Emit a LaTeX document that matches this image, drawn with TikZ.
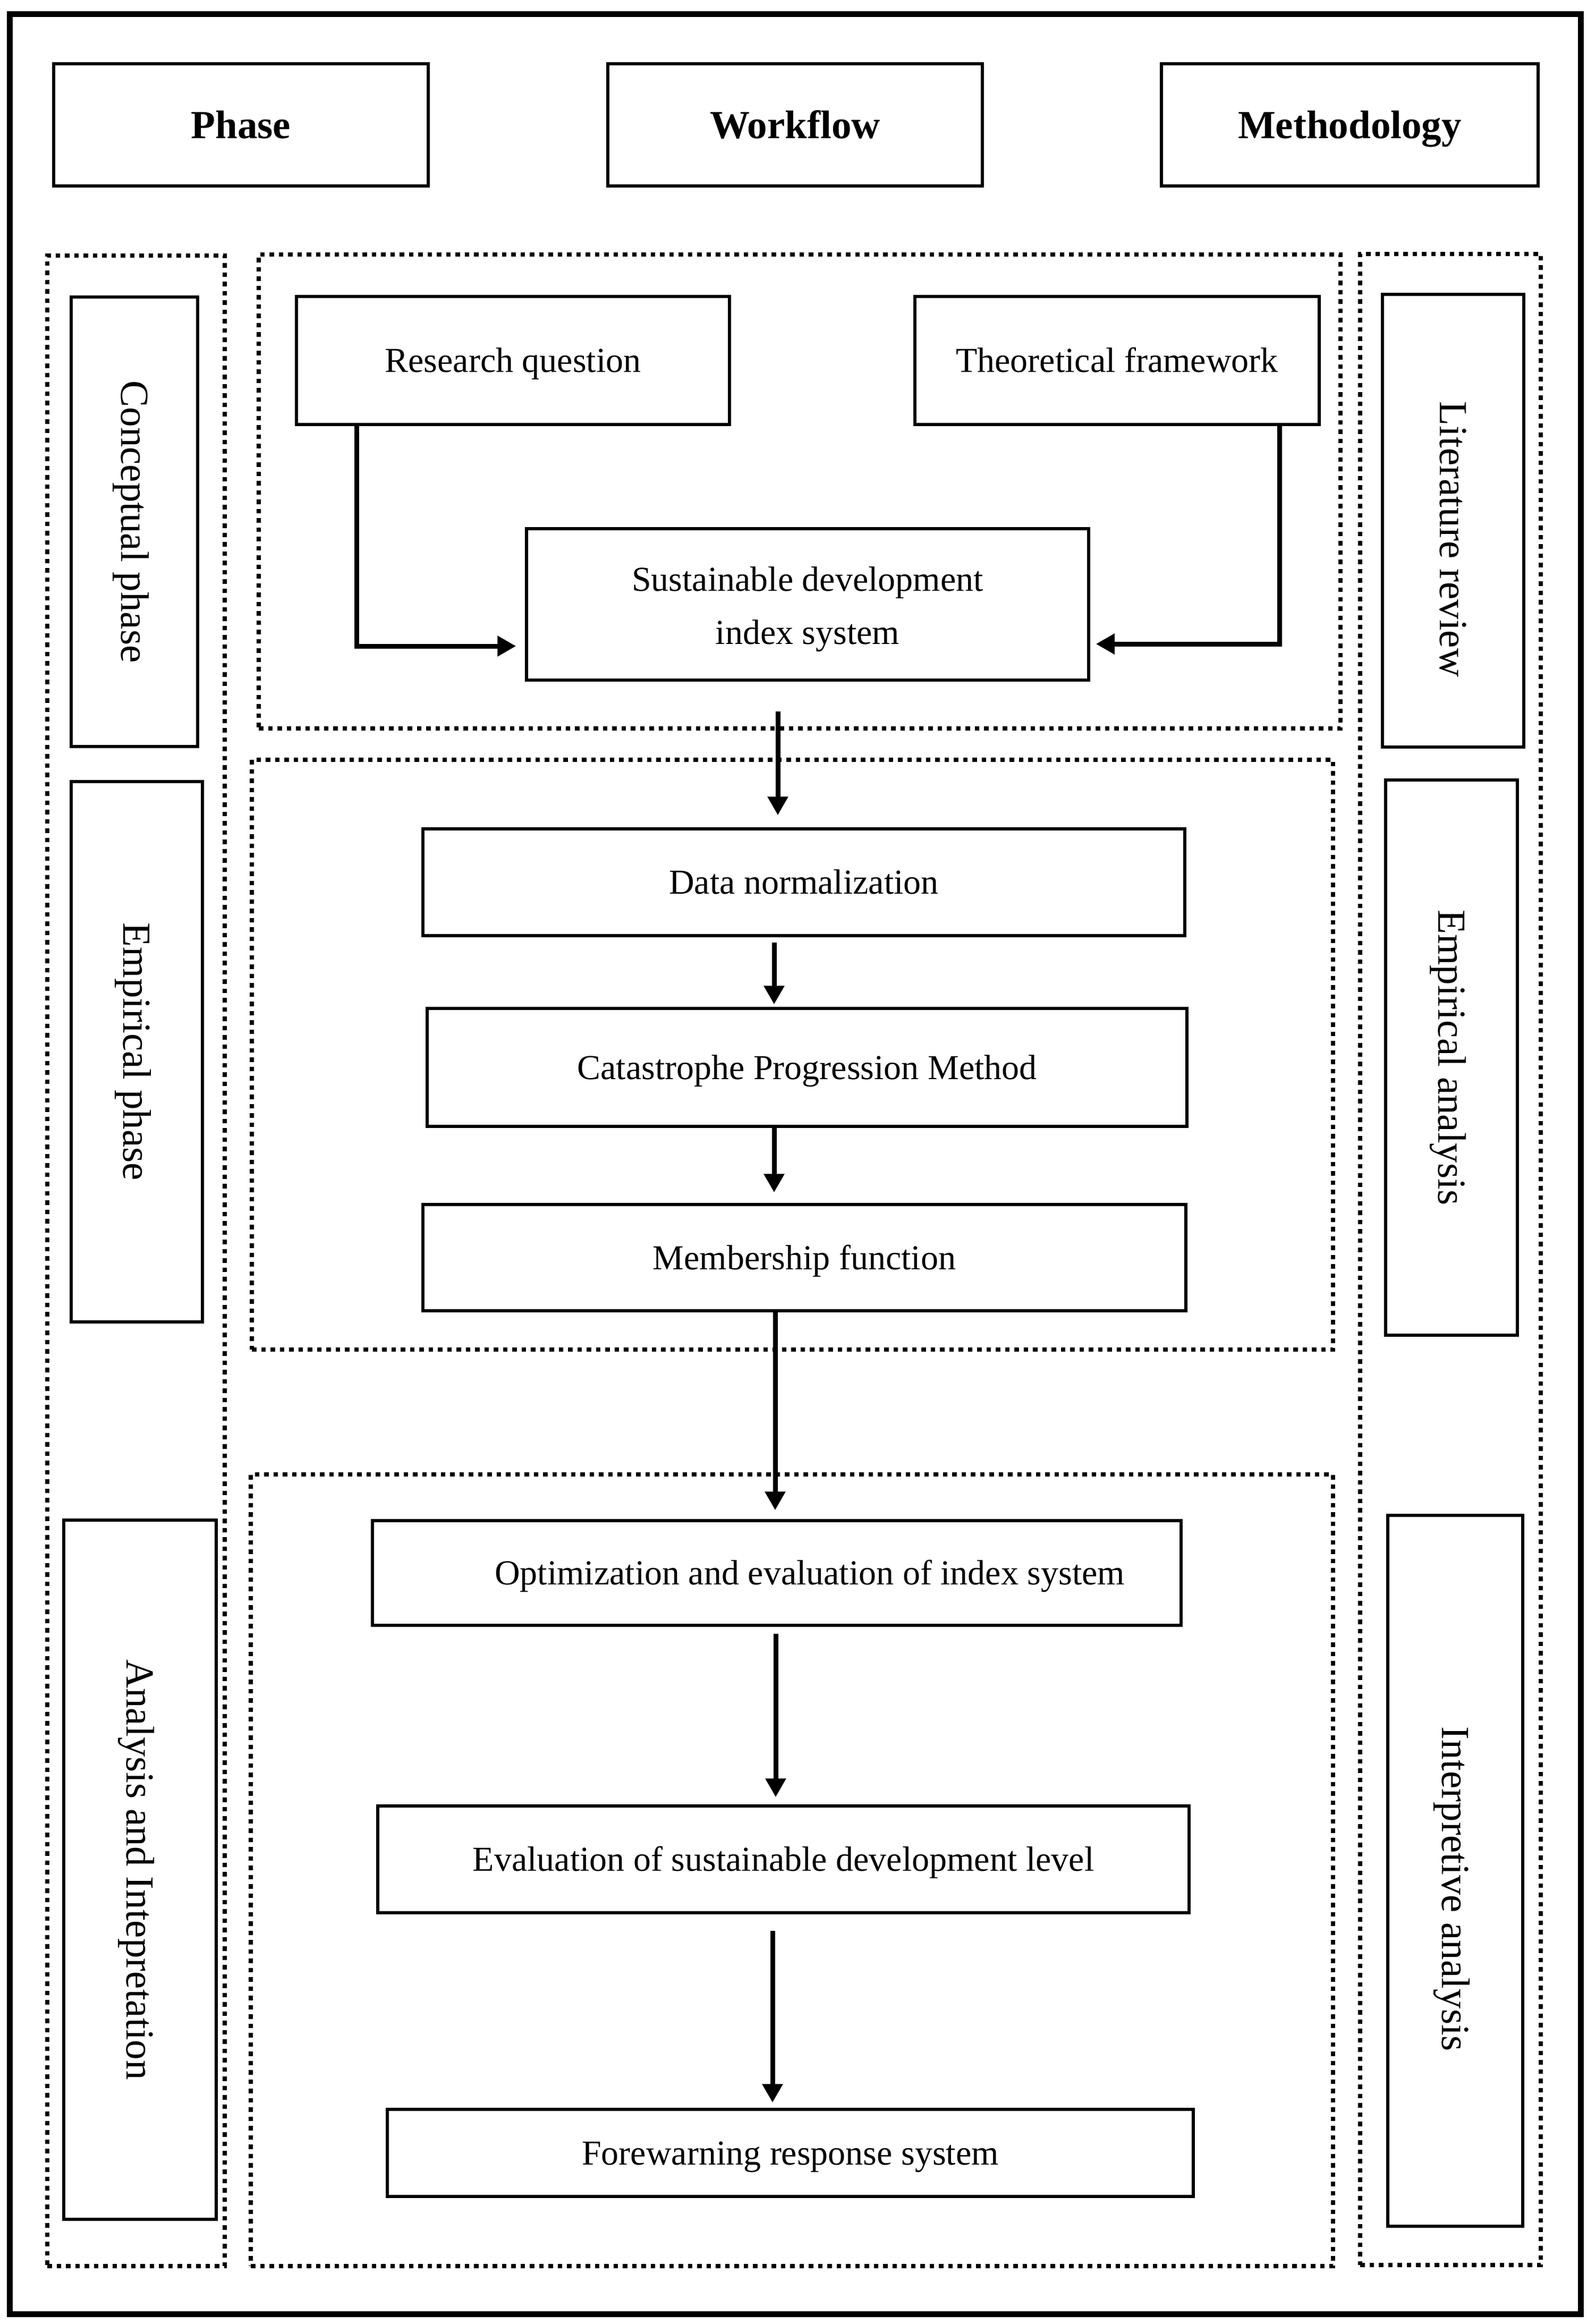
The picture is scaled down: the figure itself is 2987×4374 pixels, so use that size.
\documentclass[tikz,border=0pt]{standalone}
\usepackage{fontspec}
\setmainfont{Liberation Serif}
\usetikzlibrary{fit,arrows.meta,calc}
\begin{document}
\begin{tikzpicture}[x=0.2pt,y=-0.2pt,
  box/.style={draw, line width=1.1pt, inner sep=0pt},
  dotbox/.style={draw, line width=1.7pt, dash pattern=on 1.7pt off 1.8pt, inner sep=0pt},
  txt/.style={anchor=base, inner sep=0pt, font=\fontsize{13.2}{20}\selectfont},
  hdrtxt/.style={anchor=base, inner sep=0pt, font=\fontsize{15}{18}\selectfont\bfseries},
  side/.style={rotate=-90, anchor=base, font=\fontsize{15}{18}\selectfont, inner sep=0pt},
  arr/.style={line width=1.8pt, -{Triangle[length=7pt,width=7.4pt]}},
]
\useasboundingbox (0,0) rectangle (2987,4374);
\fill[white] (0,0) rectangle (2987,4374);
% outer frame
\draw[line width=2.2pt] (18,26) rectangle (2975,4355);

% headers
\node[box, fit={(101,120) (806,350)}] (phase) {};
\node[hdrtxt] (phaseT) at ($(phase.center)+(0,25)$) {Phase};
\node[box, fit={(1144,120) (1849,350)}] (workflow) {};
\node[hdrtxt] (workflowT) at ($(workflow.center)+(0,25)$) {Workflow};
\node[box, fit={(2186,120) (2895,350)}] (method) {};
\node[hdrtxt] (methodT) at ($(method.center)+(0,25)$) {Methodology};

% dotted groups
\node[dotbox, fit={(89,481) (423,4265)}] (leftcol) {};
\node[dotbox, fit={(487,479) (2523,1371)}] (topwf) {};
\node[dotbox, fit={(474,1430) (2509,2540)}] (midwf) {};
\node[dotbox, fit={(472,2775) (2509,4265)}] (botwf) {};
\node[dotbox, fit={(2560,478) (2900,4263)}] (rightcol) {};

% side boxes
\node[box, fit={(134,559) (372,1405)}] (conc) {};
\node[side] (concT) at ($(conc.center)+(-25,0)$) {Conceptual phase};
\node[box, fit={(134,1471) (381,2488)}] (emp) {};
\node[side] (empT) at ($(emp.center)+(-25,0)$) {Empirical phase};
\node[box, fit={(120,2861) (407,4177)}] (ana) {};
\node[side] (anaT) at ($(ana.center)+(-25,0)$) {Analysis and Intepretation};

\node[box, fit={(2602,554) (2868,1406)}] (lit) {};
\node[side] (litT) at ($(lit.center)+(-25,35)$) {Literature review};
\node[box, fit={(2608,1468) (2856,2513)}] (empa) {};
\node[side] (empaT) at ($(empa.center)+(-25,0)$) {Empirical analysis};
\node[box, fit={(2612,2852) (2866,4190)}] (interp) {};
\node[side] (interpT) at ($(interp.center)+(-25,34)$) {Interpretive analysis};

% workflow boxes
\node[box, fit={(558,558) (1373,799)}] (rq) {};
\node[txt] (rqT) at ($(rq.center)+(0,22)$) {Research question};
\node[box, fit={(1722,558) (2483,799)}] (tf) {};
\node[txt] (tfT) at ($(tf.center)+(0,22)$) {Theoretical framework};
\node[box, fit={(991,995) (2049,1280)}] (sdis) {};
\node[txt] (sdisT1) at ($(sdis.center)+(0,-25)$) {Sustainable development};
\node[txt] (sdisT2) at ($(sdis.center)+(0,75)$) {index system};
\node[box, fit={(796,1560) (2230,1761)}] (dn) {};
\node[txt] (dnT) at ($(dn.center)+(0,22)$) {Data normalization};
\node[box, fit={(804,1898) (2234,2120)}] (cpm) {};
\node[txt] (cpmT) at ($(cpm.center)+(0,22)$) {Catastrophe Progression Method};
\node[box, fit={(796,2267) (2232,2467)}] (mf) {};
\node[txt] (mfT) at ($(mf.center)+(0,22)$) {Membership function};
\node[box, fit={(701,2862) (2223,3059)}] (opt) {};
\node[txt] (optT) at ($(opt.center)+(62,22)$) {Optimization and evaluation of index system};
\node[box, fit={(711,3399) (2238,3600)}] (eval) {};
\node[txt] (evalT) at ($(eval.center)+(0,22)$) {Evaluation of sustainable development level};
\node[box, fit={(729,3970) (2246,4134)}] (fw) {};
\node[txt] (fwT) at ($(fw.center)+(0,22)$) {Forewarning response system};

% connectors
\coordinate (rqturn) at (671,1216);
\coordinate (tfturn) at (2408,1212);
\draw[arr] (rq.south -| rqturn) |- ($(sdis.west |- rqturn)+(-17,0)$);
\draw[arr] (tf.south -| tfturn) |- ($(sdis.east |- tfturn)+(11,0)$);

\coordinate (ax1) at (1464,0);
\coordinate (ax2) at (1457,0);
\coordinate (ax3) at (1457,0);
\coordinate (ax4) at (1459,0);
\coordinate (ax5) at (1460,0);
\coordinate (ax6) at (1454,0);
\draw[arr] ($(sdis.south -| ax1)+(0,56)$) -- ($(dn.north -| ax1)+(0,-23)$);
\draw[arr] ($(dn.south -| ax2)+(0,10)$) -- ($(cpm.north -| ax2)+(0,-5)$);
\draw[arr] (cpm.south -| ax3) -- ($(mf.north -| ax3)+(0,-20)$);
\draw[arr] (mf.south -| ax4) -- ($(opt.north -| ax4)+(0,-17)$);
\draw[arr] ($(opt.south -| ax5)+(0,13)$) -- ($(eval.north -| ax5)+(0,-14)$);
\draw[arr] ($(eval.south -| ax6)+(0,31)$) -- ($(fw.north -| ax6)+(0,-10)$);
\end{tikzpicture}
\end{document}
